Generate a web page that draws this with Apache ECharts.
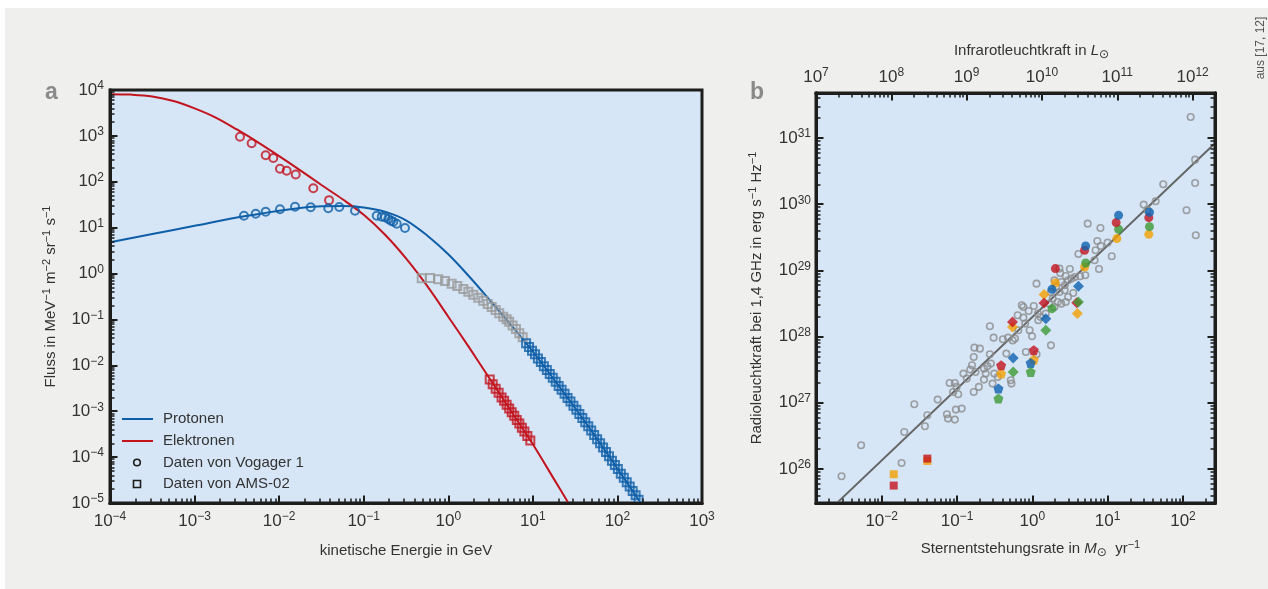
<!DOCTYPE html>
<html>
<head>
<meta charset="utf-8">
<script src="https://cdn.jsdelivr.net/npm/echarts@6/dist/echarts.min.js"></script>
<style>
  html, body { margin: 0; background: #fff; }
  #chart { width: 1268px; height: 589px; }
</style>
</head>
<body>
<div id="chart"></div>
<script>
// ---- panel a: log10(E / GeV), log10(flux) ----
var aXTicks = [-4, -3, -2, -1, 0, 1, 2, 3];
var aYTicks = [-5, -4, -3, -2, -1, 0, 1, 2, 3, 4];

var protonCurve = [
  [-4.0, 0.68], [-3.5, 0.86], [-3.0, 1.04], [-2.5, 1.22], [-2.0, 1.37], [-1.75, 1.43],
  [-1.5, 1.465], [-1.25, 1.47], [-1.0, 1.44], [-0.75, 1.35], [-0.5, 1.16], [-0.25, 0.83],
  [0.0, 0.42], [0.25, -0.07], [0.5, -0.60], [0.75, -1.14], [1.0, -1.70], [1.25, -2.31],
  [1.5, -2.93], [1.75, -3.58], [2.0, -4.25], [2.25, -4.93], [2.3, -5.07]
];
var electronCurve = [
  [-4.0, 3.91], [-3.75, 3.90], [-3.5, 3.86], [-3.25, 3.76], [-3.0, 3.60], [-2.75, 3.40],
  [-2.5, 3.14], [-2.25, 2.86], [-2.0, 2.56], [-1.75, 2.25], [-1.5, 1.93], [-1.25, 1.62],
  [-1.0, 1.28], [-0.75, 0.85], [-0.5, 0.33], [-0.25, -0.27], [0.0, -0.94], [0.25, -1.62],
  [0.5, -2.32], [0.75, -3.02], [1.0, -3.72], [1.25, -4.48], [1.42, -5.0], [1.5, -5.25]
];
var voyagerElectrons = [
  [-2.463, 2.98], [-2.325, 2.84], [-2.159, 2.58], [-2.069, 2.52], [-1.99, 2.285],
  [-1.911, 2.24], [-1.804, 2.16], [-1.596, 1.86], [-1.41, 1.60]
];
var voyagerProtons = [
  [-2.416, 1.261], [-2.277, 1.304], [-2.159, 1.348], [-1.99, 1.40], [-1.812, 1.457],
  [-1.627, 1.444], [-1.419, 1.422], [-1.289, 1.45], [-1.103, 1.37], [-0.846, 1.26],
  [-0.787, 1.24], [-0.748, 1.226], [-0.709, 1.189], [-0.677, 1.152], [-0.65, 1.13],
  [-0.61, 1.087], [-0.512, 0.993]
];
var amsProtonsLow = [
  [-0.314, -0.104], [-0.216, -0.097], [-0.118, -0.126], [-0.039, -0.162], [0.040, -0.22],
  [0.106, -0.27], [0.178, -0.336], [0.237, -0.394], [0.296, -0.46], [0.355, -0.525],
  [0.414, -0.59], [0.466, -0.663], [0.513, -0.729], [0.56, -0.794], [0.603, -0.866],
  [0.65, -0.94], [0.69, -0.997], [0.72, -1.05], [0.76, -1.13], [0.80, -1.21],
  [0.84, -1.30], [0.88, -1.39]
];
var amsProtons = [
  [0.92, -1.52], [0.955, -1.60], [0.99, -1.68], [1.025, -1.76], [1.06, -1.85], [1.095, -1.93],
  [1.13, -2.02], [1.165, -2.10], [1.20, -2.19], [1.235, -2.27], [1.27, -2.36], [1.305, -2.45],
  [1.34, -2.53], [1.375, -2.62], [1.41, -2.71], [1.445, -2.79], [1.48, -2.88], [1.515, -2.97],
  [1.55, -3.06], [1.585, -3.15], [1.62, -3.24], [1.655, -3.33], [1.69, -3.42], [1.725, -3.52],
  [1.76, -3.61], [1.795, -3.70], [1.83, -3.79], [1.865, -3.89], [1.90, -3.98], [1.935, -4.08],
  [1.97, -4.17], [2.005, -4.26], [2.04, -4.36], [2.075, -4.45], [2.11, -4.55], [2.145, -4.64],
  [2.18, -4.74], [2.215, -4.83], [2.25, -4.93]
];
var amsElectrons = [
  [0.49, -2.31], [0.525, -2.41], [0.56, -2.51], [0.595, -2.60], [0.63, -2.70], [0.66, -2.77],
  [0.69, -2.86], [0.72, -2.94], [0.75, -3.02], [0.78, -3.10], [0.81, -3.19], [0.84, -3.27],
  [0.87, -3.36], [0.90, -3.44], [0.935, -3.54], [0.97, -3.64]
];

// ---- panel b: log10(SFR), log10(L_1.4GHz); top axis log10(L_IR) ----
var bXTicks = [-2, -1, 0, 1, 2];
var bTopTicks = [7, 8, 9, 10, 11, 12];
var bYTicks = [26, 27, 28, 29, 30, 31];

var galaxies = [
  [2.102, 31.318], [2.161, 30.673], [2.161, 30.321], [1.738, 30.301], [1.637, 30.044],
  [1.478, 29.994], [2.047, 29.908], [2.17, 29.53], [1.53, 29.91], [0.735, 29.706],
  [0.904, 29.641], [0.863, 29.445], [0.999, 29.419], [0.908, 29.369], [0.84, 29.304],
  [0.612, 29.248], [1.054, 29.213], [0.826, 29.153], [0.885, 29.022], [0.36, 29.027],
  [0.37, 28.961], [0.498, 29.022], [0.443, 28.916], [0.703, 28.926],
  [0.293, 28.85], [0.384, 28.825], [0.43, 28.775], [0.475, 28.85], [0.521, 28.876],
  [0.566, 28.901], [0.635, 28.911], [0.315, 28.75], [0.247, 28.674], [0.361, 28.674],
  [0.43, 28.699], [0.543, 28.659], [0.475, 28.599], [0.27, 28.574], [0.338, 28.523],
  [0.384, 28.498], [0.224, 28.498], [0.293, 28.448], [0.443, 28.523], [0.179, 28.347],
  [0.11, 28.297], [0.079, 28.246], [-0.049, 28.387], [-0.118, 28.448],
  [0.055, 28.80], [-0.14, 28.473], [0.019, 28.463], [0.074, 28.347], [-0.195, 28.322],
  [-0.118, 28.286], [-0.095, 28.196], [-0.036, 28.095], [-0.186, 28.095], [-0.004, 28.005],
  [-0.564, 28.156], [-0.514, 27.984], [-0.391, 27.959], [-0.322, 27.984], [0.247, 27.868],
  [-0.769, 27.833], [-0.696, 27.818], [-0.23, 27.97], [-0.26, 27.94],
  [-0.564, 27.733], [-0.345, 27.743], [-0.086, 27.768], [0.056, 27.733], [-0.778, 27.692],
  [-0.55, 27.592], [-0.801, 27.566], [-0.596, 27.551], [-0.642, 27.516], [-0.824, 27.501],
  [-0.755, 27.466], [-0.915, 27.441], [-0.87, 27.365], [-0.619, 27.441], [-0.642, 27.35],
  [-0.528, 27.29], [-0.277, 27.29], [-0.286, 27.34], [-0.71, 27.24], [-0.778, 27.164],
  [-1.098, 27.30], [-1.029, 27.30], [-1.052, 27.164], [-0.984, 27.128], [-1.006, 27.24],
  [-1.567, 26.977], [-1.257, 27.048], [-1.394, 26.811], [-1.134, 26.826], [-1.12, 26.761],
  [-1.015, 26.897], [-0.938, 26.912], [-1.029, 26.746], [-1.7, 26.559], [-1.426, 26.645],
  [-2.273, 26.358], [-1.736, 26.091], [-2.533, 25.89], [-0.459, 27.39], [-0.505, 27.441]
];
var fitLine = [[-2.6, 25.48], [2.425, 30.92]];

var circOrange = [[1.122, 29.48], [0.694, 29.052], [1.546, 29.545], [0.306, 28.81]];
var circGreen = [[1.145, 29.621], [0.708, 29.112], [1.555, 29.661], [0.261, 28.422]];
var circRed = [[1.113, 29.722], [0.694, 29.304], [1.546, 29.797], [0.306, 29.027]];
var circBlue = [[1.145, 29.832], [0.708, 29.369], [1.555, 29.878], [0.261, 28.714]];
var diaOrange = [[0.156, 28.634], [0.598, 28.347], [-0.263, 28.145]];
var diaRed = [[0.156, 28.508], [0.59, 28.51], [-0.263, 28.221]];
var diaBlue = [[0.179, 28.27], [0.612, 28.76], [-0.254, 27.677]];
var diaGreen = [[0.179, 28.095], [0.612, 28.523], [-0.254, 27.466]];
var pentOrange = [[-0.414, 27.441], [0.019, 27.652]];
var pentRed = [[-0.414, 27.566], [0.019, 27.793]];
var pentBlue = [[-0.45, 27.214], [-0.022, 27.602]];
var pentGreen = [[-0.45, 27.063], [-0.022, 27.466]];
var sqOrange = [[-1.84, 25.92], [-1.394, 26.121]];
var sqRed = [[-1.84, 25.749], [-1.394, 26.157]];

var FONT = '"Liberation Sans", Arial, sans-serif';
var TXT = '#333';
var INK = '#1d1d1b';
var BLUE = '#0f5fa8', RED = '#c3141e', GREEN = '#3d9a35', ORANGE = '#f4a000', DBLUE = '#0d62b0';
var PENT = 'path://M0,-10L9.51,-3.09L5.88,8.09L-5.88,8.09L-9.51,-3.09Z';

function minors(lo, hi) {
  var out = [];
  for (var n = Math.floor(lo); n < hi; n++) {
    for (var k = 2; k < 10; k++) {
      var v = n + Math.log10(k);
      if (v > lo && v < hi) out.push(v);
    }
  }
  return out;
}
function pow10(v) {
  var n = Math.round(v);
  return '{b|10}{e|' + (n < 0 ? '\u2212' + (-n) : n) + '}';
}
var labelRich = {
  b: { fontSize: 17, fontFamily: FONT, color: TXT, lineHeight: 20 },
  e: { fontSize: 12, fontFamily: FONT, color: TXT, verticalAlign: 'top', lineHeight: 11 }
};
var nameRich = {
  n: { fontSize: 15, fontFamily: FONT, color: TXT, lineHeight: 20 },
  s: { fontSize: 11, fontFamily: FONT, color: TXT, verticalAlign: 'top', lineHeight: 11 },
  i: { fontSize: 15, fontFamily: FONT, color: TXT, fontStyle: 'italic', lineHeight: 20 },
  o: { fontSize: 12, fontFamily: '"DejaVu Sans", sans-serif', color: TXT, verticalAlign: 'bottom', lineHeight: 15 }
};

function axis(opt) {
  var major = !opt.minor;
  var a = {
    type: 'value',
    gridIndex: opt.grid,
    position: opt.pos,
    min: opt.min,
    max: opt.max,
    z: 5,
    axisLine: { show: true, onZero: false, lineStyle: { color: INK, width: 3 } },
    splitLine: { show: false },
    axisTick: {
      show: true, inside: true,
      length: major ? 7.5 : 4.5,
      lineStyle: { color: INK, width: major ? 2 : 1.5 },
      customValues: opt.ticks
    },
    axisLabel: { show: false }
  };
  if (opt.labels) {
    a.axisLabel = {
      show: true, margin: opt.margin, customValues: opt.ticks,
      formatter: pow10, rich: labelRich
    };
  }
  if (opt.name) {
    a.name = opt.name;
    a.nameLocation = 'middle';
    a.nameGap = opt.nameGap;
    a.nameTextStyle = { rich: nameRich, padding: opt.namePad || 0 };
  }
  return a;
}

var xAxes = [
  axis({ grid: 0, pos: 'bottom', min: -4, max: 3, ticks: aXTicks, labels: true, margin: 8,
         name: '{n|kinetische Energie in GeV}', nameGap: 38 }),
  axis({ grid: 0, pos: 'bottom', min: -4, max: 3, ticks: minors(-4, 3), minor: true }),
  axis({ grid: 1, pos: 'bottom', min: -2.872, max: 2.425, ticks: bXTicks, labels: true, margin: 8,
         name: '{n|Sternentstehungsrate in }{i|M}{o|\u2299}{n|  yr}{s|\u22121}', nameGap: 36, namePad: [0, 0, 0, 30] }),
  axis({ grid: 1, pos: 'bottom', min: -2.872, max: 2.425, ticks: minors(-2.872, 2.425), minor: true }),
  axis({ grid: 1, pos: 'top', min: 7, max: 12.297, ticks: bTopTicks, labels: true, margin: 6,
         name: '{n|Infrarotleuchtkraft in }{i|L}{o|\u2299}', nameGap: 32, namePad: [0, 0, 0, 32] }),
  axis({ grid: 1, pos: 'top', min: 7, max: 12.297, ticks: minors(7, 12.297), minor: true })
];
var yAxes = [
  axis({ grid: 0, pos: 'left', min: -5, max: 4, ticks: aYTicks, labels: true, margin: 6,
         name: '{n|Fluss in MeV}{s|\u22121}{n| m}{s|\u22122}{n| sr}{s|\u22121}{n| s}{s|\u22121}', nameGap: 49 }),
  axis({ grid: 0, pos: 'left', min: -5, max: 4, ticks: minors(-5, 4), minor: true }),
  axis({ grid: 1, pos: 'left', min: 25.486, max: 31.68, ticks: bYTicks, labels: true, margin: 5,
         name: '{n|Radioleuchtkraft bei 1,4 GHz in erg s}{s|\u22121}{n| Hz}{s|\u22121}', nameGap: 49 }),
  axis({ grid: 1, pos: 'left', min: 25.486, max: 31.68, ticks: minors(25.486, 31.68), minor: true }),
  axis({ grid: 1, pos: 'right', min: 25.486, max: 31.68, ticks: bYTicks }),
  axis({ grid: 1, pos: 'right', min: 25.486, max: 31.68, ticks: minors(25.486, 31.68), minor: true })
];

function curve(name, data, color) {
  return {
    name: name, type: 'line', data: data, xAxisIndex: 0, yAxisIndex: 0,
    smooth: 0.35, showSymbol: false, symbol: 'none', silent: true, z: 2,
    lineStyle: { color: color, width: 2 }
  };
}
function hollow(name, data, symbol, color, size, xi, yi, bw) {
  return {
    name: name, type: 'scatter', data: data, xAxisIndex: xi, yAxisIndex: yi,
    symbol: symbol, symbolSize: size, silent: true, z: 3,
    itemStyle: { color: 'rgba(0,0,0,0)', borderColor: color, borderWidth: bw }
  };
}
function filled(name, data, symbol, color, size) {
  return {
    name: name, type: 'scatter', data: data, xAxisIndex: 2, yAxisIndex: 2,
    symbol: symbol, symbolSize: size, silent: true, z: 4,
    itemStyle: { color: color }
  };
}

var option = {
  animation: false,
  backgroundColor: '#fff',
  grid: [
    { left: 110, top: 90, width: 592, height: 413, show: true,
      backgroundColor: '#d6e6f7', borderColor: INK, borderWidth: 3 },
    { left: 816, top: 93, width: 399, height: 410, show: true,
      backgroundColor: '#d6e6f7', borderColor: INK, borderWidth: 3 }
  ],
  xAxis: xAxes,
  yAxis: yAxes,
  graphic: [
    { type: 'rect', left: 5, top: 8, z: -10, silent: true,
      shape: { width: 1263, height: 581 }, style: { fill: '#efefed' } },
    { type: 'text', left: 45, top: 81, style: { text: 'a', font: 'bold 23px ' + FONT, fill: '#8a8a8a' } },
    { type: 'text', left: 750, top: 81, style: { text: 'b', font: 'bold 23px ' + FONT, fill: '#8a8a8a' } },
    { type: 'text', x: 1255, y: 48, rotation: Math.PI / 2, silent: true,
      style: { text: 'aus [17, 12]', font: '12px ' + FONT, fill: '#555', align: 'center', verticalAlign: 'top' } },
    // legend of panel a
    { type: 'line', shape: { x1: 122, y1: 419, x2: 153, y2: 419 }, style: { stroke: BLUE, lineWidth: 2 }, z: 10 },
    { type: 'line', shape: { x1: 122, y1: 441, x2: 153, y2: 441 }, style: { stroke: RED, lineWidth: 2 }, z: 10 },
    { type: 'circle', shape: { cx: 137, cy: 462.5, r: 3.3 }, style: { fill: 'none', stroke: INK, lineWidth: 1.6 }, z: 10 },
    { type: 'rect', shape: { x: 133.5, y: 480.5, width: 7, height: 7 }, style: { fill: 'none', stroke: INK, lineWidth: 1.6 }, z: 10 },
    { type: 'text', x: 163, y: 419, z: 10, style: { text: 'Protonen', font: '15px ' + FONT, fill: TXT, verticalAlign: 'middle' } },
    { type: 'text', x: 163, y: 441, z: 10, style: { text: 'Elektronen', font: '15px ' + FONT, fill: TXT, verticalAlign: 'middle' } },
    { type: 'text', x: 163, y: 462.5, z: 10, style: { text: 'Daten von Vogager 1', font: '15px ' + FONT, fill: TXT, verticalAlign: 'middle' } },
    { type: 'text', x: 163, y: 484, z: 10, style: { text: 'Daten von AMS-02', font: '15px ' + FONT, fill: TXT, verticalAlign: 'middle' } }
  ],
  series: [
    curve('Protonen', protonCurve, BLUE),
    curve('Elektronen', electronCurve, RED),
    hollow('Vogager 1 Elektronen', voyagerElectrons, 'circle', RED, 8, 0, 0, 2),
    hollow('Vogager 1 Protonen', voyagerProtons, 'circle', BLUE, 8, 0, 0, 2),
    hollow('AMS-02 Protonen (niedrig)', amsProtonsLow, 'rect', '#999', 8, 0, 0, 2),
    hollow('AMS-02 Protonen', amsProtons, 'rect', BLUE, 8, 0, 0, 2),
    hollow('AMS-02 Elektronen', amsElectrons, 'rect', RED, 8, 0, 0, 2),

    hollow('Galaxien', galaxies, 'circle', '#8c8c8c', 6.5, 2, 2, 1.6),
    {
      name: 'Fit', type: 'line', data: fitLine, xAxisIndex: 2, yAxisIndex: 2,
      showSymbol: false, symbol: 'none', silent: true, z: 3,
      lineStyle: { color: '#666', width: 2 }
    },
    filled('sq orange', sqOrange, 'rect', ORANGE, 8),
    filled('sq red', sqRed, 'rect', RED, 8),
    filled('pent orange', pentOrange, PENT, ORANGE, 10),
    filled('pent red', pentRed, PENT, RED, 10),
    filled('pent blue', pentBlue, PENT, DBLUE, 10),
    filled('pent green', pentGreen, PENT, GREEN, 10),
    filled('dia orange', diaOrange, 'diamond', ORANGE, 11),
    filled('dia red', diaRed, 'diamond', RED, 11),
    filled('dia blue', diaBlue, 'diamond', DBLUE, 11),
    filled('dia green', diaGreen, 'diamond', GREEN, 11),
    filled('circ orange', circOrange, 'circle', ORANGE, 9),
    filled('circ green', circGreen, 'circle', GREEN, 9),
    filled('circ red', circRed, 'circle', RED, 9),
    filled('circ blue', circBlue, 'circle', DBLUE, 9)
  ]
};

var chart = echarts.init(document.getElementById('chart'));
chart.setOption(option);
window.addEventListener('resize', function () { chart.resize(); });
</script>
</body>
</html>
